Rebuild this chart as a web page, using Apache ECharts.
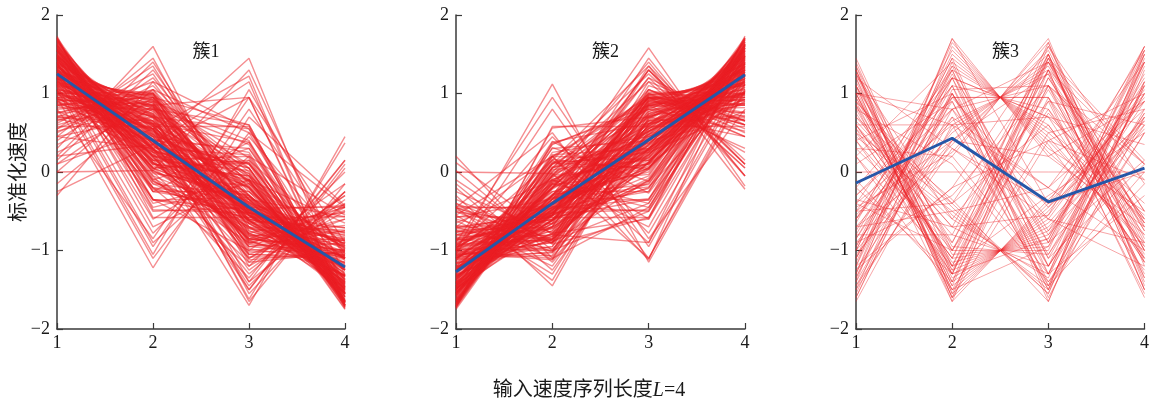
<!DOCTYPE html>
<html>
<head>
<meta charset="utf-8">
<script src="https://cdn.jsdelivr.net/npm/echarts@6/dist/echarts.min.js"></script>
<style>html,body{margin:0;padding:0;background:#fff}#c{width:1152px;height:404px}</style>
</head>
<body>
<div id="c"></div>
<script>
const xCategories = [1, 2, 3, 4];
const yTickValues = [-2, -1, 0, 1, 2];
const panelTitles = ['簇1', '簇2', '簇3'];
const xAxisTitle = '输入速度序列长度';
const yAxisTitle = '标准化速度';

const cluster1 = [
[1.34,0.45,-0.45,-1.34],[1.28,0.52,-0.38,-1.42],[1.40,0.36,-0.51,-1.25],[1.22,0.61,-0.29,-1.54],
[1.47,0.25,-0.56,-1.16],[1.15,0.70,-0.31,-1.54],[1.52,0.18,-0.48,-1.22],[1.31,0.40,-0.62,-1.09],
[1.19,0.58,-0.55,-1.22],[1.44,0.47,-0.66,-1.25],[1.36,0.21,-0.33,-1.24],[1.25,0.33,-0.20,-1.38],
[1.58,0.05,-0.42,-1.21],[1.12,0.84,-0.47,-1.49],[1.05,0.88,-0.40,-1.53],[1.62,-0.05,-0.55,-1.02],
[1.66,-0.20,-0.60,-0.86],[1.70,-0.35,-0.58,-0.77],[1.73,-0.58,-0.58,-0.57],[1.68,-0.12,-0.72,-0.84],
[1.55,0.12,-0.80,-0.87],[1.49,0.30,-0.86,-0.93],[1.41,0.55,-0.90,-1.06],[1.33,0.68,-0.95,-1.06],
[1.26,0.77,-0.82,-1.21],[1.18,0.92,-0.78,-1.32],[1.10,0.98,-0.65,-1.43],[1.00,1.02,-0.70,-1.32],
[0.95,1.00,-0.55,-1.40],[0.90,0.95,-0.20,-1.65],[0.82,0.80,0.10,-1.72],[0.58,0.58,0.58,-1.73],
[0.70,0.62,0.38,-1.70],[0.98,0.45,0.25,-1.68],[1.08,0.30,0.22,-1.60],[1.20,0.15,0.20,-1.55],
[1.30,0.05,0.12,-1.47],[1.16,0.42,0.05,-1.63],[0.88,0.72,0.05,-1.65],[1.02,0.60,-0.05,-1.57],
[1.24,0.48,-0.10,-1.62],[1.37,0.28,-0.15,-1.50],[1.46,0.10,-0.25,-1.31],[1.54,0.00,-0.30,-1.24],
[1.60,-0.25,-0.25,-1.10],[1.48,-0.40,-0.10,-0.98],[1.39,-0.60,0.15,-0.94],[1.30,-0.78,0.45,-0.97],
[1.20,-0.95,0.80,-1.05],[1.10,-1.05,1.05,-1.10],[0.95,-1.22,0.70,-0.43],[1.05,-1.10,0.50,-0.45],
[1.25,-0.90,0.20,-0.55],[1.45,-0.70,-0.10,-0.65],[0.80,-0.85,0.95,-0.90],[0.30,1.60,-0.80,-1.10],
[0.45,1.45,-0.75,-1.15],[0.55,1.35,-0.62,-1.28],[0.20,1.40,-0.50,-1.10],[0.62,1.25,-0.55,-1.32],
[0.40,1.20,-0.30,-1.30],[0.70,1.15,-0.45,-1.40],[0.15,1.30,-0.35,-1.10],[0.50,1.10,-0.15,-1.45],
[0.75,1.05,-0.25,-1.55],[-0.30,1.15,0.55,-1.40],[0.00,1.05,0.50,-1.55],[0.10,0.95,0.60,-1.65],
[-0.15,0.85,0.95,-1.65],[0.25,0.80,0.60,-1.65],[0.35,0.90,0.40,-1.65],[0.00,0.02,1.30,-1.32],
[-0.25,0.35,1.45,-1.55],[0.10,0.55,1.22,-1.72],[0.20,0.35,1.15,-1.70],[0.45,0.30,0.95,-1.70],
[1.20,0.60,-1.65,-0.15],[1.05,0.75,-1.55,-0.25],[1.30,0.40,-1.45,-0.25],[0.95,0.85,-1.40,-0.40],
[1.35,0.20,-1.30,-0.25],[1.15,0.45,-1.25,-0.35],[1.45,0.00,-1.15,-0.30],[0.80,0.90,-1.20,-0.50],
[1.00,0.25,-1.70,0.45],[0.70,0.55,-1.62,0.37],[1.25,-0.05,-1.35,0.15],[1.10,0.30,-1.50,0.10],
[0.90,0.55,-1.50,0.05],[1.40,-0.20,-1.20,0.00],[1.50,-0.35,-1.00,-0.15],[0.85,0.40,-1.40,0.15],
[1.20,0.20,-1.10,-0.30],[1.00,0.55,-1.10,-0.45],[1.35,0.30,-1.05,-0.60],[1.55,0.15,-0.95,-0.75],
[1.28,0.62,-1.00,-0.90],[1.12,0.70,-0.95,-0.87],[0.92,0.83,-0.90,-0.85],[0.85,1.00,-0.85,-1.00],
[1.42,0.40,-0.35,-1.47],[1.32,0.58,-0.48,-1.42],[1.21,0.72,-0.42,-1.51],[1.50,0.22,-0.35,-1.37],
[1.63,0.08,-0.38,-1.33],[1.57,0.26,-0.66,-1.17],[1.45,0.35,-0.72,-1.08],[1.35,0.50,-0.75,-1.10],
[1.27,0.30,-0.52,-1.05],[1.15,0.15,-0.38,-0.92],[1.05,0.35,-0.60,-0.80],[0.95,0.65,-0.85,-0.75],
[1.38,0.12,-0.82,-0.68],[1.60,-0.10,-0.90,-0.60],[1.52,-0.08,-0.70,-0.74],[1.42,0.05,-0.40,-1.07],
[1.11,0.52,-0.22,-1.41],[0.98,0.74,-0.30,-1.42],[0.86,0.62,-0.12,-1.36],[0.75,0.85,-0.35,-1.25],
[0.65,0.95,-0.50,-1.10],[0.55,1.05,-0.65,-0.95],[0.68,0.40,0.30,-1.38],[0.78,0.25,0.10,-1.13],
[1.48,0.58,-0.52,-1.54],[1.65,0.30,-0.62,-1.33],[1.71,-0.48,-0.52,-0.71],[1.69,-0.25,-0.45,-0.99],
[1.64,-0.36,-0.32,-0.96],[1.58,-0.45,-0.15,-0.98],
[1.71,0.02,-0.70,-1.03],[1.67,0.18,-0.85,-1.00],[1.62,0.35,-0.92,-1.05],[1.56,0.45,-1.02,-0.99],
[1.50,0.62,-1.05,-1.07],[1.43,0.70,-1.12,-1.01],[1.37,0.80,-1.08,-1.09],[1.29,0.88,-1.15,-1.02],
[1.21,0.95,-1.05,-1.11],[1.13,1.00,-0.98,-1.15],[1.70,-0.15,-0.30,-1.25],[1.66,-0.02,-0.18,-1.46],
[1.61,0.10,-0.05,-1.66],[1.55,0.20,-0.10,-1.65],[1.49,0.15,0.02,-1.66],[1.43,0.05,0.15,-1.63],
[1.38,-0.10,0.30,-1.58],[1.33,-0.25,0.38,-1.46],[1.27,0.20,0.12,-1.59],[1.22,0.32,0.05,-1.59],
[1.14,0.55,-0.02,-1.67],[1.06,0.70,-0.10,-1.66],[0.99,0.80,-0.12,-1.67],[0.92,0.86,-0.08,-1.70],
[0.85,0.95,-0.05,-1.75],[0.76,0.98,0.00,-1.74],[0.66,1.00,0.05,-1.71],[0.60,0.92,0.18,-1.70],
[0.52,0.82,0.35,-1.69],[0.45,0.70,0.55,-1.70],[1.59,0.38,-0.48,-1.49],[1.53,0.48,-0.55,-1.46],
[1.46,0.55,-0.62,-1.39],[1.39,0.65,-0.60,-1.44],[1.30,0.74,-0.56,-1.48],[1.23,0.82,-0.50,-1.55],
[1.16,0.78,-0.35,-1.59],[1.08,0.65,-0.18,-1.55],[1.01,0.52,-0.02,-1.51],[0.94,0.38,0.10,-1.42],
[1.68,0.12,-0.46,-1.34],[1.61,0.28,-0.53,-1.36],[1.54,0.42,-0.78,-1.18],[1.47,0.60,-0.88,-1.19],
[1.40,0.72,-0.80,-1.32],[1.34,0.84,-0.87,-1.31],[1.27,0.90,-0.70,-1.47],[1.19,0.96,-0.62,-1.53],
[1.09,0.92,-0.52,-1.49],[1.02,0.86,-0.44,-1.44],[0.96,0.10,-0.05,-1.01],[0.90,0.28,-0.40,-0.78],
[1.12,-0.20,-0.35,-0.57],[1.26,-0.35,-0.48,-0.43],[1.40,-0.50,-0.45,-0.45],[1.32,-0.15,-0.65,-0.52],
[1.18,0.05,-0.78,-0.45],[1.04,0.22,-0.85,-0.41],[0.88,0.48,-0.92,-0.44],[0.72,0.65,-0.88,-0.49],
[1.55,-0.22,-0.52,-0.81],[1.45,-0.12,-0.62,-0.71],[1.36,0.02,-0.55,-0.83],[1.24,0.12,-0.42,-0.94],
[1.13,0.26,-0.48,-0.91],[1.03,0.40,-0.52,-0.91],[0.93,0.55,-0.60,-0.88],[1.35,0.36,-0.20,-1.51],
[1.18,0.50,-0.20,-1.48],[1.48,0.28,-0.12,-1.64]
];

const cluster2 = [
[-1.34,-0.45,0.45,1.34],[-1.42,-0.38,0.52,1.28],[-1.25,-0.51,0.36,1.40],[-1.54,-0.29,0.61,1.22],
[-1.16,-0.56,0.25,1.47],[-1.54,-0.31,0.70,1.15],[-1.22,-0.48,0.18,1.52],[-1.09,-0.62,0.40,1.31],
[-1.22,-0.55,0.58,1.19],[-1.25,-0.66,0.47,1.44],[-1.24,-0.33,0.21,1.36],[-1.38,-0.20,0.33,1.25],
[-1.21,-0.42,0.05,1.58],[-1.49,-0.47,0.84,1.12],[-1.53,-0.40,0.88,1.05],[-1.02,-0.55,-0.05,1.62],
[-0.86,-0.60,-0.20,1.66],[-0.77,-0.58,-0.35,1.70],[-0.57,-0.58,-0.58,1.73],[-0.84,-0.72,-0.12,1.68],
[-0.87,-0.80,0.12,1.55],[-0.93,-0.86,0.30,1.49],[-1.06,-0.90,0.55,1.41],[-1.06,-0.95,0.68,1.33],
[-1.21,-0.82,0.77,1.26],[-1.32,-0.78,0.92,1.18],[-1.43,-0.65,0.98,1.10],[-1.32,-0.70,1.02,1.00],
[-1.40,-0.55,1.00,0.95],[-1.65,-0.20,0.95,0.90],[-1.72,0.10,0.80,0.82],[-1.73,0.58,0.58,0.58],
[-1.70,0.38,0.62,0.70],[-1.68,0.25,0.45,0.98],[-1.60,0.22,0.30,1.08],[-1.55,0.20,0.15,1.20],
[-1.47,0.12,0.05,1.30],[-1.63,0.05,0.42,1.16],[-1.65,0.05,0.72,0.88],[-1.57,-0.05,0.60,1.02],
[-1.62,-0.10,0.48,1.24],[-1.50,-0.15,0.28,1.37],[-1.31,-0.25,0.10,1.46],[-1.24,-0.30,0.00,1.54],
[-1.10,-0.25,-0.25,1.60],[-0.98,-0.10,-0.40,1.48],[-0.94,0.15,-0.60,1.39],[-0.97,0.45,-0.78,1.30],
[-1.05,0.80,-0.95,1.20],[-1.00,1.12,-1.15,1.03],[-0.70,0.20,-1.12,1.62],[-0.45,0.50,-1.10,1.05],
[-0.55,0.20,-0.90,1.25],[-0.65,-0.10,-0.70,1.45],[-0.90,0.95,-0.85,0.80],[-0.30,-1.45,0.75,1.00],
[-0.45,-1.38,0.70,1.13],[-0.55,-1.30,0.62,1.23],[-0.20,-1.25,0.45,1.00],[-0.62,-1.20,0.52,1.30],
[-0.40,-1.12,0.25,1.27],[-0.70,-1.08,0.40,1.38],[-0.15,-1.15,0.30,1.00],[-0.50,-1.02,0.12,1.40],
[-0.75,-0.98,0.22,1.51],[0.20,-1.10,-0.45,1.35],[0.02,-1.00,-0.50,1.48],[-0.10,-0.92,-0.58,1.60],
[0.12,-0.80,-0.90,1.58],[-0.25,-0.78,-0.60,1.63],[-0.35,-0.88,-0.40,1.63],[0.00,-0.02,-1.10,1.12],
[-1.20,-0.20,1.58,-0.18],[-1.30,-0.05,1.40,-0.05],[-1.25,0.15,1.35,-0.22],[-1.45,0.10,1.25,0.10],
[-1.10,-0.35,1.30,0.15],[-1.50,-0.30,1.20,0.60],[-1.05,-0.75,1.15,0.65],[-0.95,-0.85,1.10,0.70],
[-1.35,-0.20,1.05,0.50],[-1.15,-0.45,1.00,0.60],[-1.45,0.00,1.00,0.45],[-0.80,-0.90,1.05,0.65],
[-1.00,-0.40,1.45,-0.05],[-0.70,-0.55,1.30,-0.05],[-1.25,0.05,1.15,0.05],[-1.10,-0.30,1.30,0.10],
[-0.90,-0.55,1.35,0.10],[-1.40,0.20,0.95,0.25],[-1.50,0.35,0.85,0.30],[-0.85,-0.40,1.20,0.05],
[-1.20,-0.20,0.95,0.45],[-1.00,-0.55,0.95,0.60],[-1.35,-0.30,0.90,0.75],[-1.55,-0.15,0.85,0.85],
[-1.28,-0.62,0.95,0.95],[-1.12,-0.70,0.90,0.92],[-0.92,-0.83,0.88,0.87],[-0.85,-1.00,0.85,1.00],
[-1.47,-0.35,0.40,1.42],[-1.42,-0.48,0.58,1.32],[-1.51,-0.42,0.72,1.21],[-1.37,-0.35,0.22,1.50],
[-1.33,-0.38,0.08,1.63],[-1.17,-0.66,0.26,1.57],[-1.08,-0.72,0.35,1.45],[-1.10,-0.75,0.50,1.35],
[-1.05,-0.52,0.30,1.27],[-0.92,-0.38,0.15,1.15],[-0.80,-0.60,0.35,1.05],[-0.75,-0.85,0.65,0.95],
[-0.68,-0.82,0.12,1.38],[-0.60,-0.90,-0.10,1.60],[-0.74,-0.70,-0.08,1.52],[-1.07,-0.40,0.05,1.42],
[-1.41,-0.22,0.52,1.11],[-1.42,-0.30,0.74,0.98],[-1.36,-0.12,0.62,0.86],[-1.25,-0.35,0.85,0.75],
[-1.10,-0.50,0.95,0.65],[-0.95,-0.65,1.05,0.55],[-1.38,0.30,0.40,0.68],[-1.13,0.10,0.25,0.78],
[-1.54,-0.52,0.58,1.48],[-1.33,-0.62,0.30,1.65],[-0.71,-0.52,-0.48,1.71],[-0.99,-0.45,-0.25,1.69],
[-0.96,-0.32,-0.36,1.64],[-0.98,-0.15,-0.45,1.58],
[-1.03,-0.70,0.04,1.71],[-1.00,-0.86,0.20,1.66],[-1.06,-0.90,0.34,1.62],[-0.98,-1.00,0.42,1.56],
[-1.08,-1.03,0.61,1.50],[-1.01,-1.10,0.68,1.43],[-1.10,-1.06,0.79,1.37],[-1.03,-1.12,0.86,1.29],
[-1.12,-1.02,0.93,1.21],[-1.16,-0.95,0.98,1.13],[-1.26,-0.28,-0.16,1.70],[-1.47,-0.16,-0.03,1.66],
[-1.67,-0.04,0.10,1.61],[-1.64,-0.09,0.18,1.55],[-1.67,0.03,0.15,1.49],[-1.62,0.16,0.03,1.43],
[-1.57,0.31,-0.12,1.38],[-1.45,0.39,-0.27,1.33],[-1.60,0.13,0.18,1.27],[-1.58,0.06,0.30,1.22],
[-1.68,-0.01,0.55,1.14],[-1.65,-0.11,0.70,1.06],[-1.68,-0.13,0.82,0.99],[-1.71,-0.07,0.86,0.92],
[-1.75,-0.04,0.94,0.85],[-1.73,0.01,0.96,0.76],[-1.70,0.06,0.98,0.66],[-1.71,0.19,0.92,0.60],
[-1.68,0.36,0.80,0.52],[-1.71,0.56,0.70,0.45],[-1.50,-0.47,0.39,1.58],[-1.45,-0.56,0.48,1.53],
[-1.40,-0.61,0.55,1.46],[-1.43,-0.61,0.66,1.38],[-1.49,-0.55,0.74,1.30],[-1.54,-0.49,0.81,1.22],
[-1.58,-0.34,0.77,1.15],[-1.56,-0.17,0.65,1.08],[-1.50,-0.03,0.52,1.01],[-1.41,0.11,0.37,0.93],
[-1.35,-0.45,0.12,1.68],[-1.37,-0.52,0.28,1.61],[-1.17,-0.79,0.42,1.54],[-1.20,-0.87,0.60,1.47],
[-1.31,-0.79,0.71,1.39],[-1.30,-0.86,0.83,1.33],[-1.48,-0.69,0.90,1.27],[-1.52,-0.61,0.95,1.18],
[-1.48,-0.53,0.91,1.10],[-1.45,-0.43,0.87,1.01],[-1.00,-0.06,0.10,0.96],[-0.77,-0.41,0.28,0.90],
[-0.58,-0.34,-0.19,1.11],[-0.44,-0.47,-0.34,1.25],[-0.46,-0.44,-0.50,1.40],[-0.51,-0.66,-0.14,1.31],
[-0.46,-0.77,0.06,1.17],[-0.40,-0.86,0.23,1.03],[-0.45,-0.91,0.48,0.88],[-0.48,-0.89,0.65,0.72],
[-0.80,-0.53,-0.21,1.54],[-0.72,-0.61,-0.11,1.44],[-0.82,-0.56,0.03,1.35],[-0.95,-0.41,0.13,1.23],
[-0.90,-0.49,0.27,1.12],[-0.92,-0.51,0.41,1.02],[-0.87,-0.61,0.56,0.92],[-1.52,-0.19,0.37,1.34],
[-1.47,-0.21,0.51,1.17],[-1.63,-0.13,0.29,1.47]
];

const cluster3 = [
[1.35,-1.00,0.80,-1.15],[1.20,-1.30,1.10,-1.00],[1.00,-1.45,1.20,-0.75],[0.85,-1.20,1.45,-1.10],
[1.10,-0.90,1.30,-1.50],[0.60,-1.10,1.65,-1.15],[1.25,-0.60,0.90,-1.55],[0.95,-1.00,1.05,-1.00],
[0.40,-1.30,1.60,-0.70],[1.30,-1.60,0.40,-0.10],[1.15,-1.25,0.75,-0.65],[0.70,-0.70,1.50,-1.50],
[-1.35,1.00,-0.80,1.15],[-1.20,1.30,-1.10,1.00],[-1.00,1.45,-1.20,0.75],[-0.85,1.20,-1.45,1.10],
[-1.10,0.90,-1.30,1.50],[-0.60,1.10,-1.65,1.15],[-1.60,1.00,-0.90,1.50],[-0.95,1.00,-1.05,1.00],
[-0.40,1.30,-1.60,0.70],[-1.30,1.70,-0.40,0.00],[-1.15,1.25,-0.75,0.65],[-0.70,0.70,-1.50,1.50],
[-1.20,1.70,0.20,-0.70],[-1.00,1.50,0.40,-0.90],[-0.80,1.30,0.60,-1.10],[-1.10,1.10,0.80,-0.80],
[-0.60,0.80,1.10,-1.30],[-0.90,0.50,1.40,-1.00],[-0.70,0.20,1.70,-1.20],[-1.40,1.60,0.30,-0.50],
[-0.50,0.40,1.50,-1.40],[-1.30,1.40,0.50,-0.60],[-0.30,0.95,0.95,-1.60],[-1.50,1.20,0.70,-0.40],
[-0.40,0.60,1.30,-1.50],[1.20,-1.65,-0.35,0.80],[1.00,-1.45,-0.55,1.00],[0.80,-1.25,-0.75,1.20],
[1.10,-1.05,-0.95,0.90],[0.60,-0.80,-1.20,1.40],[0.90,-0.55,-1.45,1.10],[0.70,-0.35,-1.65,1.30],
[1.35,-1.55,-0.45,0.65],[0.50,-0.40,-1.55,1.45],[1.30,-1.35,-0.65,0.70],[0.40,-1.00,-1.00,1.60],
[1.45,-1.20,-0.80,0.55],[0.55,-0.60,-1.35,1.40],[0.20,1.40,-1.30,-0.30],[-0.50,1.10,-1.20,0.60],
[0.40,1.00,-1.40,0.00],[-0.20,1.20,-1.10,0.10],[-0.60,1.35,-0.90,0.15],[0.10,0.90,-1.50,0.50],
[-0.20,-1.30,1.40,0.10],[0.50,-1.10,1.20,-0.60],[-0.40,-1.00,1.30,0.10],[0.20,-1.20,1.10,-0.10],
[-0.10,-1.40,0.90,0.60],[0.30,-0.90,1.50,-0.90],[-0.50,-0.40,1.40,-0.50],[-1.00,0.40,1.25,-0.65],
[0.55,-1.30,-0.85,1.60],[-0.35,-0.70,-0.55,1.60],[1.00,-1.20,-0.30,0.50],[-0.90,-0.30,1.10,0.10],
[0.30,0.20,-1.30,0.80],[-0.30,0.80,-1.20,0.70],[0.80,0.10,-1.40,0.50],[-1.65,0.60,0.70,0.35],
[-1.50,0.40,0.20,0.90],[1.20,0.30,-0.60,-0.90],[-1.40,0.70,-0.20,0.90],[1.00,0.80,-0.60,-1.20],
[-0.70,-0.50,-0.20,1.40],[0.90,-0.40,0.60,-1.10],[-1.20,-0.20,0.40,1.00],[0.60,0.60,-0.20,-1.00],
[-1.10,1.65,0.25,-0.80],[-0.95,1.45,0.45,-0.95],[-0.75,1.20,0.70,-1.15],[-0.85,0.95,0.95,-1.05],
[-0.55,0.65,1.25,-1.35],[-1.05,0.35,1.55,-0.85],[-1.25,0.55,1.35,-0.65],[-1.35,1.35,0.55,-0.55],
[-0.65,1.55,0.35,-1.25],[-0.45,0.25,1.65,-1.45],[1.10,-1.60,-0.40,0.90],[0.95,-1.40,-0.60,1.05],
[0.75,-1.15,-0.85,1.25],[1.25,-0.95,-1.05,0.75],[0.65,-0.70,-1.30,1.35],[0.85,-0.45,-1.55,1.15],
[1.40,-1.30,-0.70,0.60],[0.45,-0.50,-1.50,1.55],[1.05,-1.50,-0.50,0.95],[0.60,-1.10,-0.90,1.40],
[1.30,-1.55,0.95,-0.70],[1.10,-1.60,1.45,-0.95],[-1.60,0.95,-0.45,1.10],[-1.45,0.80,1.40,-0.75],
[0.90,-1.50,-0.95,1.55],[1.25,-1.40,1.50,-1.35],[-1.55,1.05,1.10,-0.60],[0.85,-1.65,1.30,-0.50],
[-1.25,-0.20,1.60,-0.15],[1.00,0.60,-1.45,-0.15],[-0.80,-0.80,1.45,0.15],[0.20,-1.50,0.50,0.80],
[-1.45,0.30,-0.40,1.55],
[0.00,0.00,0.00,0.00]
];

const centroid1 = [1.25, 0.40, -0.45, -1.21];
const centroid2 = [-1.27, -0.40, 0.41, 1.24];
const centroid3 = [-0.14, 0.43, -0.38, 0.05];

const clusters = [cluster1, cluster2, cluster3];
const centroids = [centroid1, centroid2, centroid3];

const gridLefts = [57, 456, 856];
const gridWidths = [288, 289, 289];
const serif = '"Liberation Serif","Times New Roman","Noto Sans CJK SC",serif';

const grids = [], xAxes = [], yAxes = [], series = [], titles = [];
for (let p = 0; p < 3; p++) {
  grids.push({ left: gridLefts[p], width: gridWidths[p], top: 15, height: 314 });
  xAxes.push({
    type: 'value', gridIndex: p, min: 1, max: 4, interval: 1,
    axisLine: { onZero: false, lineStyle: { color: '#3a3a3a', width: 1.5 } },
    axisTick: { inside: true, length: 6, lineStyle: { color: '#3a3a3a', width: 1.2 } },
    axisLabel: { color: '#1a1a1a', fontSize: 18, fontFamily: serif, margin: 5 },
    splitLine: { show: false }
  });
  yAxes.push({
    type: 'value', gridIndex: p, min: -2, max: 2, interval: 1,
    axisLine: { show: true, onZero: false, lineStyle: { color: '#3a3a3a', width: 1.5 } },
    axisTick: { show: true, inside: true, length: 6, lineStyle: { color: '#3a3a3a', width: 1.2 } },
    axisLabel: { color: '#1a1a1a', fontSize: 18, fontFamily: serif, margin: 7,
      formatter: v => (v < 0 ? '\u2212' + Math.abs(v) : String(v)) },
    splitLine: { show: false },
    name: p === 0 ? yAxisTitle : '',
    nameLocation: 'middle', nameRotate: 90, nameGap: 27,
    nameTextStyle: { fontSize: 20, color: '#1a1a1a', fontWeight: 'normal', fontFamily: '"Noto Sans CJK SC",sans-serif' }
  });
  titles.push({
    text: panelTitles[p], left: gridLefts[p] + gridWidths[p] / 2, top: 38, textAlign: 'center',
    textStyle: { fontSize: 18, fontWeight: 'normal', color: '#1a1a1a', fontFamily: serif }
  });
  const rows = clusters[p];
  for (let r = 0; r < rows.length; r++) {
    series.push({
      type: 'line', xAxisIndex: p, yAxisIndex: p, silent: true, symbol: 'none',
      lineStyle: { color: p === 2 ? 'rgba(236,40,46,0.42)' : 'rgba(236,30,36,0.5)', width: p === 2 ? 1 : 1.4 },
      data: xCategories.map((x, i) => [x, rows[r][i]]), z: 2
    });
  }
  series.push({
    type: 'line', xAxisIndex: p, yAxisIndex: p, silent: true, symbol: 'none',
    lineStyle: { color: '#2557a8', width: 3 },
    data: xCategories.map((x, i) => [x, centroids[p][i]]), z: 5
  });
}
titles.push({
  text: '{a|' + xAxisTitle + '}{b|L}{a|=4}', left: 584, top: 376, textAlign: 'center',
  textStyle: { fontWeight: 'normal', rich: {
    a: { fontSize: 20, color: '#1a1a1a', fontWeight: 'normal', fontFamily: serif },
    b: { fontSize: 20, color: '#1a1a1a', fontWeight: 'normal', fontFamily: serif, fontStyle: 'italic' }
  } }
});

const chart = echarts.init(document.getElementById('c'), null, { renderer: 'canvas' });
chart.setOption({
  animation: false, backgroundColor: '#fff',
  title: titles, grid: grids, xAxis: xAxes, yAxis: yAxes, series: series
});
</script>
</body>
</html>
